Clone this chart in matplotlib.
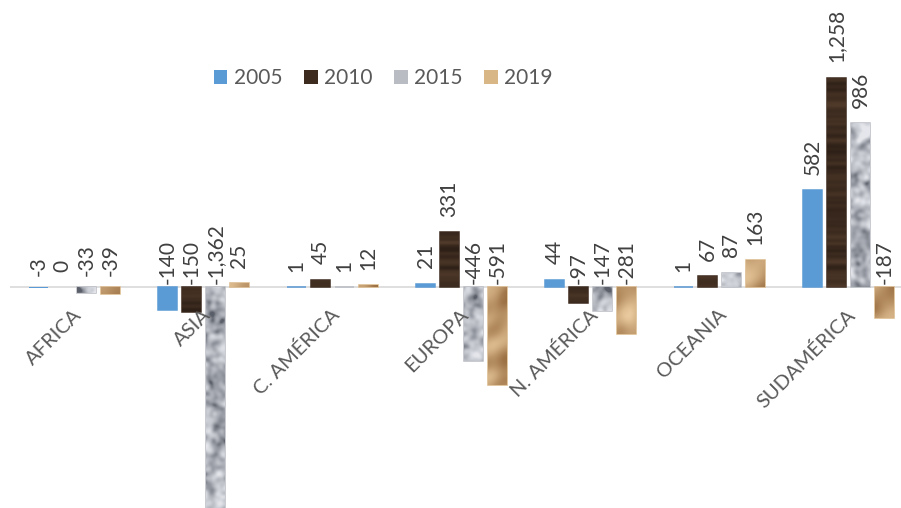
import numpy as np
import matplotlib
matplotlib.use("Agg")
import matplotlib.pyplot as plt
from matplotlib.patches import Patch

plt.rcParams['font.family'] = ['Lato', 'DejaVu Sans']

regions = ['AFRICA', 'ASIA', 'C. AMÉRICA', 'EUROPA', 'N. AMÉRICA', 'OCEANIA', 'SUDAMÉRICA']
years = ['2005', '2010', '2015', '2019']
v2005 = [-3, -140, 1, 21, 44, 1, 582]
v2010 = [0, -150, 45, 331, -97, 67, 1258]
v2015 = [-33, -1362, 1, -446, -147, 87, 986]
v2019 = [-39, 25, 12, -591, -281, 163, -187]
series = [v2005, v2010, v2015, v2019]

H, W = 508, 891
rng = np.random.default_rng(11)


def smooth(a, sy, sx):
    ky = np.fft.fftfreq(a.shape[0])[:, None]
    kx = np.fft.fftfreq(a.shape[1])[None, :]
    g = np.exp(-2 * np.pi ** 2 * ((ky * sy) ** 2 + (kx * sx) ** 2))
    return np.real(np.fft.ifft2(np.fft.fft2(a) * g))


def norm(a):
    lo, hi = np.percentile(a, [1, 99])
    return np.clip((a - lo) / (hi - lo), 0, 1)


def blend(t, lo, hi):
    lo = np.array(lo) / 255.0
    hi = np.array(hi) / 255.0
    return lo + (hi - lo) * np.clip(t, 0, 1)[..., None]


# wood grain: faint streaks running across the bar
wood = norm(smooth(rng.standard_normal((H, W)), 1.5, 200))
wood_img = blend(wood, (46, 32, 23), (80, 58, 42))

# granite: light bluish grey with darker blobs
g1 = smooth(rng.standard_normal((H, W)), 2.2, 2.2)
g2 = smooth(rng.standard_normal((H, W)), 5, 5)
granite = norm(g1 / g1.std() + 0.7 * g2 / g2.std())
granite_img = blend(granite ** 0.6, (90, 95, 105), (228, 230, 236))

# crumpled paper bag: embossed low-frequency relief
p = smooth(rng.standard_normal((H, W)), 8, 8)
gy, gx = np.gradient(p)
paper = 0.65 * norm(gy + gx) + 0.35 * norm(p)
paper_img = blend(paper, (140, 95, 50), (242, 212, 168))

textures = [None, wood_img, granite_img, paper_img]
colors = ['#5B9BD5', '#3d2b1f', '#b9bcc2', '#d9b686']

fig = plt.figure(figsize=(9.01, 5.08), dpi=100)
ax = fig.add_axes([10 / 901, 0, 891 / 901, 1])
x0, x1 = -0.5, -0.5 + 891 / 129
y0, y1 = -1328, 1725
ax.set_xlim(x0, x1)
ax.set_ylim(y0, y1)
ax.axis('off')
ax.axhline(0, color='#d9d9d9', lw=1.2, zorder=1)

x = np.arange(len(regions))
width = 0.143
step = 0.186
offsets = [-1.5 * step, -0.5 * step, 0.5 * step, 1.5 * step]

for k, vals in enumerate(series):
    # thin outline so very small values still show as a sliver
    lws = [1.1 if abs(v) >= 1 and abs(v) < 5 and v > 0 else (0 if abs(v) < 5 else 1.1) for v in vals]
    bars = ax.bar(x + offsets[k], vals, width, color=colors[k], edgecolor=colors[k],
                  linewidth=lws, zorder=2)
    if textures[k] is not None:
        for rect in bars:
            im = ax.imshow(textures[k], extent=(x0, x1, y0, y1), origin='upper',
                           aspect='auto', interpolation='bilinear', zorder=3)
            im.set_clip_path(rect)
    for xi, v in zip(x + offsets[k], vals):
        if v >= 0:
            base, gap = v, 11
        elif v > -50:
            base, gap = 0, 8
        else:
            base, gap = 0, 2
        ax.annotate(f'{v:,}', xy=(xi, base), xytext=(0, gap), textcoords='offset points',
                    rotation=90, ha='center', va='bottom', fontsize=15, color='#404040', zorder=5)

ax.set_xlim(x0, x1)
ax.set_ylim(y0, y1)

for xi, name in zip(x, regions):
    ax.annotate(name, xy=(xi, 0), xytext=(3, -18), textcoords='offset points',
                rotation=45, rotation_mode='anchor', ha='right', va='center',
                fontsize=14.5, color='#595959')

handles = [Patch(facecolor=c, edgecolor='none') for c in colors]
ax.legend(handles, years, loc='center', bbox_to_anchor=(0.419, 0.846), ncol=4,
          frameon=False, fontsize=15, handlelength=0.65, handleheight=0.65,
          handletextpad=0.3, columnspacing=1.05, labelcolor='#595959')

fig.savefig('out.png', dpi=100)
